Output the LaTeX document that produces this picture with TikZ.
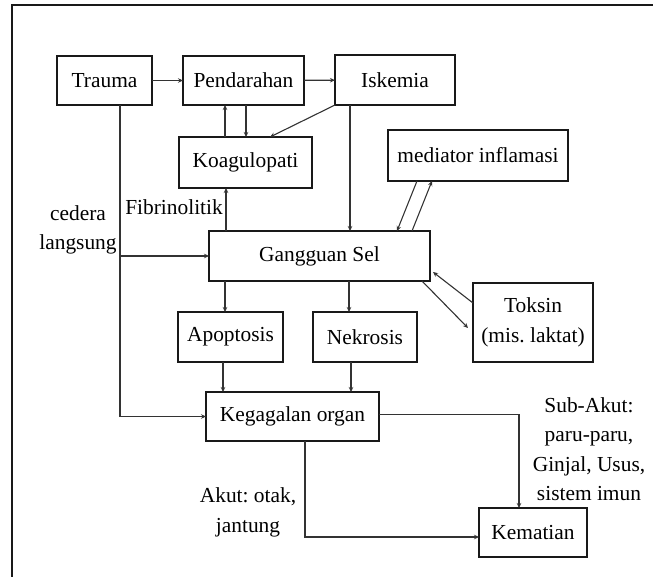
\documentclass[tikz,border=0pt]{standalone}
\usepackage{fontspec}
\setmainfont{Liberation Serif}
\usetikzlibrary{arrows.meta}
\frenchspacing
\begin{document}
\begin{tikzpicture}[x=1pt,y=-1pt,
  font=\fontsize{21.4}{29.5}\selectfont,
  box/.style={draw=black!90,line width=2pt,inner sep=0pt,outer sep=0pt,align=center},
  conn/.style={draw=black!80,line width=1.1pt},
  arr/.style={conn,-{Stealth[length=5pt,width=4.5pt]}},
  lbl/.style={align=center,inner sep=0pt}]
\useasboundingbox (0,0) rectangle (653,577);
\draw[line width=2pt,black!90] (12,577) -- (12,5) -- (653,5);
% boxes
\node[box,minimum width=95pt,minimum height=49pt] (trauma) at (104.5,80.5) {Trauma};
\node[box,minimum width=121pt,minimum height=49pt] (pend) at (243.5,80.5) {Pendarahan};
\node[box,minimum width=120pt,minimum height=50pt] (isk) at (395,80) {Iskemia};
\node[box,minimum width=133pt,minimum height=51pt] (koag) at (245.5,162.5) {Koagulopati};
\node[box,minimum width=180pt,minimum height=51pt] (med) at (478,155.5) {mediator inflamasi};
\node[box,minimum width=221pt,minimum height=50pt] (gang) at (319.5,256) {Gangguan Sel};
\node[box,minimum width=105pt,minimum height=50pt] (apo) at (230.5,337) {Apoptosis};
\node[box,minimum width=104pt,minimum height=50pt] (nek) at (365,337) {Nekrosis};
\node[box,minimum width=120pt,minimum height=79pt] (tok) at (533,322.5) {Toksin\\(mis. laktat)};
\node[box,minimum width=173pt,minimum height=49pt] (keg) at (292.5,416.5) {Kegagalan organ};
\node[box,minimum width=108pt,minimum height=49pt] (kem) at (533,532.5) {Kematian};
% labels
\node[lbl,anchor=east] (fib) at (223,207) {Fibrinolitik};
\node[lbl] (ced) at (78,230) {cedera\\langsung};
\node[lbl] (akut) at (248,512.5) {Akut: otak,\\jantung};
\node[lbl] (sub) at (589,449) {Sub-Akut:\\paru-paru,\\Ginjal, Usus,\\sistem imun};
% x positions
\coordinate (x120) at (120,0);
\coordinate (x225) at (225,0);
\coordinate (x226) at (226,0);
\coordinate (x246) at (246,0);
\coordinate (x223) at (223,0);
\coordinate (x350) at (350,0);
\coordinate (x349) at (349,0);
\coordinate (x351) at (351,0);
\coordinate (x305) at (305,0);
\coordinate (x519) at (519,0);
\coordinate (tj) at (120,416.5);
\coordinate (tb) at (120,256);
% connectors
\draw[arr] (trauma) -- (pend);
\draw[arr] (pend) -- (isk);
\draw[arr] (koag.north -| x225) -- (pend.south -| x225);
\draw[arr] (pend.south -| x246) -- (koag.north -| x246);
\draw[arr] (isk.south west) -- ([xshift=24.5pt]koag.north);
\draw[arr] (isk.south -| x350) -- (gang.north -| x350);
\draw[arr] (gang.north -| x226) -- (koag.south -| x226);
\draw[conn] (trauma.south -| x120) -- (tj);
\draw[arr] (tj) -- (keg.west);
\draw[arr] (tb) -- (gang.west);
\draw[arr] ([xshift=-61pt]med.south) -- ([xshift=77.5pt]gang.north);
\draw[arr] ([xshift=92.5pt]gang.north) -- ([xshift=-46pt]med.south);
\draw[arr] ([yshift=19.5pt]tok.west) -- ([xshift=3pt,yshift=-16pt]gang.east);
\draw[arr] ([xshift=102.5pt]gang.south) -- ([xshift=-5pt,yshift=-5.5pt]tok.west);
\draw[arr] (gang.south -| x225) -- (apo.north -| x225);
\draw[arr] (gang.south -| x349) -- (nek.north -| x349);
\draw[arr] (apo.south -| x223) -- (keg.north -| x223);
\draw[arr] (nek.south -| x351) -- (keg.north -| x351);
\draw[arr] (keg.south -| x305) |- ([yshift=-4.5pt]kem.west);
\draw[arr] ([yshift=2pt]keg.east) -| (kem.north -| x519);
\end{tikzpicture}
\end{document}
